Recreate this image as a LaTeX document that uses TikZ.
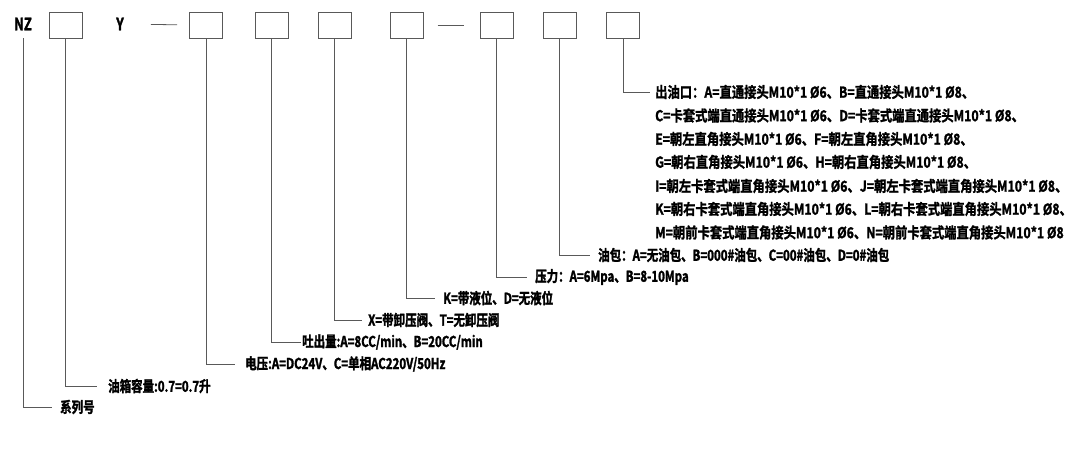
\documentclass[tikz,border=0pt]{standalone}
\usepackage{fontspec}
\newfontfamily\lab[FakeStretch=0.765,FakeBold=1.8]{Noto Sans CJK SC Bold}
\newfontfamily\labw[FakeStretch=0.82,FakeBold=1.5]{Noto Sans CJK SC Bold}
\begin{document}
\begin{tikzpicture}[x=1pt,y=-1pt]
\tikzset{
  cbox/.style={draw=black!65, line width=1pt, minimum width=33pt, minimum height=26pt, inner sep=0pt},
  lead/.style={draw=black!65, line width=0.8pt},
  txt/.style={anchor=west, inner sep=0pt, font=\lab\fontsize{15pt}{17pt}\selectfont},
  txtb/.style={anchor=west, inner sep=0pt, font=\labw\fontsize{15pt}{17pt}\selectfont},
  head/.style={inner sep=0pt, font=\lab\fontsize{17pt}{19pt}\selectfont}
}
\useasboundingbox[fill=white] (0,0) rectangle (1072,453);
% header
\node[head] (nz) at (23,24) {NZ};
\node[cbox] (b1) at (65.5,25) {};
\node[head] (y) at (120,24) {Y};
\node[cbox] (b2) at (206,25) {};
\node[cbox] (b3) at (271.5,25) {};
\node[cbox] (b4) at (334.5,25) {};
\node[cbox] (b5) at (406.5,25) {};
\node[cbox] (b6) at (496.5,25) {};
\node[cbox] (b7) at (559.5,25) {};
\node[cbox] (b8) at (623,25) {};
\coordinate (nzb) at (23,38);
\draw[lead, shorten <=27pt, shorten >=12pt] (y.east) -- (b2.west);
\draw[lead, shorten <=14pt, shorten >=16pt] (b5.east) -- (b6.west);
% labels
\node[txtb] (l1) at (655,92) {出油口：A=直通接头M10*1 Ø6、B=直通接头M10*1 Ø8、};
\node[txtb] (l2) at (655,115.5) {C=卡套式端直通接头M10*1 Ø6、D=卡套式端直通接头M10*1 Ø8、};
\node[txtb] (l3) at (655,139) {E=朝左直角接头M10*1 Ø6、F=朝左直角接头M10*1 Ø8、};
\node[txtb] (l4) at (655,162) {G=朝右直角接头M10*1 Ø6、H=朝右直角接头M10*1 Ø8、};
\node[txtb] (l5) at (655,186) {I=朝左卡套式端直角接头M10*1 Ø6、J=朝左卡套式端直角接头M10*1 Ø8、};
\node[txtb] (l6) at (655,209) {K=朝右卡套式端直角接头M10*1 Ø6、L=朝右卡套式端直角接头M10*1 Ø8、};
\node[txtb] (l7) at (655,232.5) {M=朝前卡套式端直角接头M10*1 Ø6、N=朝前卡套式端直角接头M10*1 Ø8};
\node[txt] (t7) at (598,255) {油包：A=无油包、B=000\#油包、C=00\#油包、D=0\#油包};
\node[txt] (t6) at (535,277) {压力：A=6Mpa、B=8-10Mpa};
\node[txt] (t5) at (443,298) {K=带液位、D=无液位};
\node[txt] (t4) at (368,320) {X=带卸压阀、T=无卸压阀};
\node[txt] (t3) at (302,342) {吐出量:A=8CC/min、B=20CC/min};
\node[txt] (t2) at (245,364) {电压:A=DC24V、C=单相AC220V/50Hz};
\node[txt] (t1) at (108,386) {油箱容量:0.7=0.7升};
\node[txt] (t0) at (60,407) {系列号};
% leaders
\draw[lead, shorten >=5pt] (b8.south) |- (l1.west);
\draw[lead, shorten >=8pt] (b7.south) |- (t7.west);
\draw[lead, shorten >=8pt] (b6.south) |- (t6.west);
\draw[lead, shorten >=8pt] (b5.south) |- (t5.west);
\draw[lead, shorten >=6pt] (b4.south) |- (t4.west);
\draw[lead, shorten >=1pt] (b3.south) |- (t3.west);
\draw[lead, shorten >=10pt] (b2.south) |- (t2.west);
\draw[lead, shorten >=11pt] (b1.south) |- (t1.west);
\draw[lead, shorten >=8pt] (nzb) |- (t0.west);
\end{tikzpicture}
\end{document}
